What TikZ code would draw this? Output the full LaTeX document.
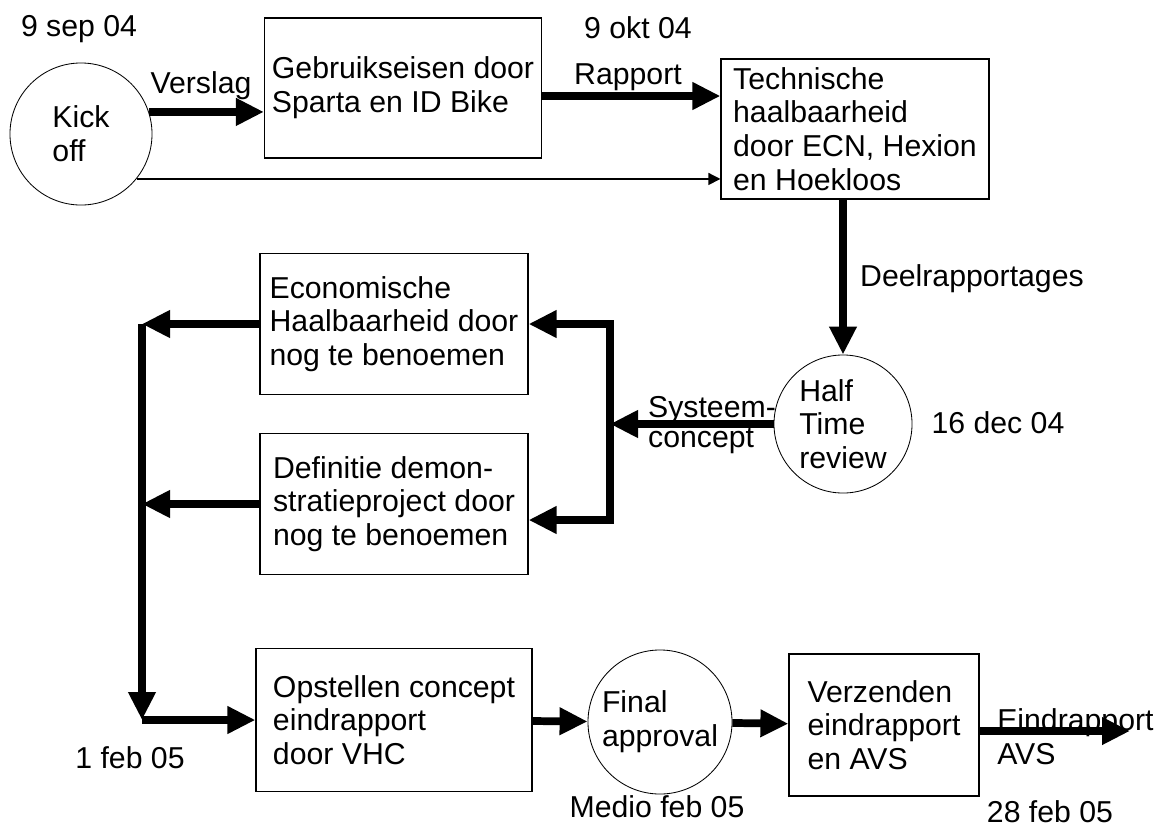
\documentclass[tikz,border=0pt]{standalone}
\usepackage{fontspec}
\setmainfont{Liberation Sans}
\usetikzlibrary{
    arrows.meta,
    calc
}
\tikzset{
  block/.style = {draw, line width=0.8pt, minimum height=3.5cm,
                  align=left, inner sep=0pt},
  mile/.style  = {draw, circle, line width=0.6pt, minimum size=3.55cm,
                  align=left, inner sep=0pt},
  arr/.style   = {-{Triangle[length=0.7cm, width=0.65cm]}, line width=5.5pt},
  arrb/.style  = {{Triangle[length=0.7cm, width=0.65cm]}-{Triangle[length=0.7cm, width=0.65cm]},
                  line width=5.5pt},
  arrt/.style  = {-{Triangle[length=0.3cm, width=0.3cm]}, line width=0.9pt}
}

\begin{document}
\begin{tikzpicture}[
    x=0.025cm, y=-0.025cm,
    font=\fontsize{21.5}{24}\selectfont,
    lbl/.style={inner sep=0pt, align=left}
]
\useasboundingbox (0,0) rectangle (1162,829);

\node[mile] (kick) at (81,134) {Kick\\off};
\node[block, minimum width=6.925cm] (gebr) at (403,88) {Gebruikseisen door\\Sparta en ID Bike};
\node[block, minimum width=6.7cm] (tech) at (855,129) {Technische\\haalbaarheid\\door ECN, Hexion\\en Hoekloos};
\node[mile, minimum size=3.45cm] (half) at (843,424) {Half\\Time\\review};
\node[block, minimum width=6.7cm, minimum height=3.525cm] (econ) at (394,324) {Economische\\Haalbaarheid door\\nog te benoemen};
\node[block, minimum width=6.7cm, minimum height=3.525cm] (defi) at (394,504) {Definitie demon-\\stratieproject door\\nog te benoemen};
\node[block, minimum width=6.9cm, minimum height=3.575cm] (opst) at (394,720) {Opstellen concept\\eindrapport\\door VHC};
\node[mile, minimum size=3.6cm] (final) at (660,722) {Final\\approval};
\node[block, minimum width=4.75cm, minimum height=3.55cm] (verz) at (884,725) {Verzenden\\eindrapport\\en AVS};

\node[lbl] (l9sep) at (79,29) {9 sep 04};
\node[lbl] (lvers) at (201,86) {Verslag};
\node[lbl] (lrap) at (628,77) {Rapport};
\node[lbl] (l9okt) at (638,28) {9 okt 04};
\node[lbl] (ldeel) at (972,279) {Deelrapportages};
\node[lbl] (l16dec) at (998,423) {16 dec 04};
\node[lbl, font=\fontsize{21.5}{21}\selectfont] (lsys) at (712,425) {Systeem-\\concept};
\node[lbl] (l1feb) at (130,758) {1 feb 05};
\node[lbl] (lmedio) at (657,807) {Medio feb 05};
\node[lbl, anchor=west] (leind) at (997,737) {Eindrapport\\AVS};
\node[lbl] (l28feb) at (1050,812) {28 feb 05};

\coordinate (br) at (610,424);
\coordinate (dd) at ($(defi.east)+(0,16)$);
\coordinate (lv) at (142,720);
\coordinate (eind) at (1130,731);

\draw[arr] (kick.18) -- (kick.18 -| gebr.west);
\draw[arrt] (kick.-39) -- (kick.-39 -| tech.west);
\draw[arr] ([yshift=-0.2cm]gebr.east) -- ([yshift=-0.2cm]gebr.east -| tech.west);
\draw[arr] (half.north |- tech.south) -- (half.north);
\draw[arr] (half.west) -- (br);
\draw[arrb] (econ.east) -- (br |- econ.east) -- (br |- dd) -- (dd);
\draw[arr] (econ.west) -- (econ.west -| lv);
\draw[arr] (defi.west) -- (defi.west -| lv);
\draw[arr] (econ.west -| lv) -- (lv);
\draw[arr] (lv) -- (opst.west);
\draw[arr] (opst) -- (final);
\draw[arr] (final) -- (verz);
\draw[arr] (verz.east |- eind) -- (eind);
\end{tikzpicture}
\end{document}
